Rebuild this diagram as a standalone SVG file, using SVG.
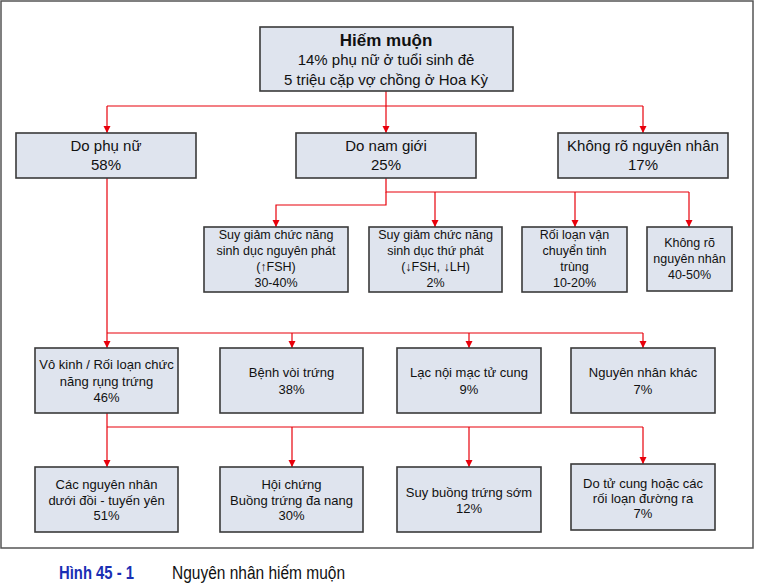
<svg xmlns="http://www.w3.org/2000/svg" width="757" height="585" viewBox="0 0 757 585">
<defs>
<marker id="arr" markerWidth="8" markerHeight="8" refX="7" refY="4" orient="auto" markerUnits="userSpaceOnUse">
<path d="M0,0.5 L7,4 L0,7.5 Z" fill="#e8000b"/>
</marker>
<style>
.box{fill:#dfe4ee;stroke:#3a3a3a;stroke-width:1.6}
.c{fill:none;stroke:#e8000b;stroke-width:1.2}
.a{fill:none;stroke:#e8000b;stroke-width:1.2;marker-end:url(#arr)}
text{font-family:"Liberation Sans",Arial,sans-serif;fill:#111;text-anchor:middle}
.t1{font-size:15px}
.t2{font-size:12.5px}
.t3{font-size:13px}
</style>
</defs>
<rect width="757" height="585" fill="#fff"/>
<rect x="1" y="1" width="752" height="547" fill="none" stroke="#555" stroke-width="1.5"/>

<g id="connectors">
<path class="c" d="M107,106 H643"/>
<path class="a" d="M386,91 V133"/>
<path class="a" d="M107,106 V133"/>
<path class="a" d="M643,106 V133"/>
<path class="c" d="M386,178 V192 H689"/>
<path class="a" d="M386,192 V205 H276 V227"/>
<path class="a" d="M435,192 V227"/>
<path class="a" d="M575,192 V227"/>
<path class="a" d="M689,192 V227"/>
<path class="a" d="M107,178 V348"/>
<path class="c" d="M107,333 H643"/>
<path class="a" d="M292,333 V348"/>
<path class="a" d="M469,333 V348"/>
<path class="a" d="M643,333 V348"/>
<path class="a" d="M107,413 V467"/>
<path class="c" d="M107,427 H643"/>
<path class="a" d="M292,427 V467"/>
<path class="a" d="M469,427 V467"/>
<path class="a" d="M643,427 V464"/>
</g>

<g id="n-root">
<rect class="box" x="260" y="27" width="253" height="64"/>
<text x="386" y="46" style="font-size:17px;font-weight:bold">Hiếm muộn</text>
<text class="t1" x="386" y="65">14% phụ nữ ở tuổi sinh đẻ</text>
<text class="t1" x="386" y="85">5 triệu cặp vợ chồng ở Hoa Kỳ</text>
</g>

<g id="n-female">
<rect class="box" x="16" y="133" width="180" height="45"/>
<text class="t1" x="106" y="151">Do phụ nữ</text>
<text class="t1" x="106" y="170">58%</text>
</g>
<g id="n-male">
<rect class="box" x="296" y="133" width="180" height="45"/>
<text class="t1" x="386" y="151">Do nam giới</text>
<text class="t1" x="386" y="170">25%</text>
</g>
<g id="n-unknown">
<rect class="box" x="558" y="133" width="170" height="45"/>
<text class="t1" x="643" y="151">Không rõ nguyên nhân</text>
<text class="t1" x="643" y="170">17%</text>
</g>

<g id="n-m1">
<rect class="box" x="204" y="227" width="144" height="65"/>
<text class="t2" x="276" y="239">Suy giảm chức năng</text>
<text class="t2" x="276" y="255">sinh dục nguyên phát</text>
<text class="t2" x="276" y="271">(↑FSH)</text>
<text class="t2" x="276" y="287">30-40%</text>
</g>
<g id="n-m2">
<rect class="box" x="369" y="227" width="133" height="65"/>
<text class="t2" x="435.5" y="239">Suy giảm chức năng</text>
<text class="t2" x="435.5" y="255">sinh dục thứ phát</text>
<text class="t2" x="435.5" y="271">(↓FSH, ↓LH)</text>
<text class="t2" x="435.5" y="287">2%</text>
</g>
<g id="n-m3">
<rect class="box" x="522" y="227" width="105" height="65"/>
<text class="t2" x="574.5" y="239">Rối loạn vận</text>
<text class="t2" x="574.5" y="255">chuyển tinh</text>
<text class="t2" x="574.5" y="271">trùng</text>
<text class="t2" x="574.5" y="287">10-20%</text>
</g>
<g id="n-m4">
<rect class="box" x="647" y="227" width="85" height="64"/>
<text class="t2" x="689.5" y="247">Không rõ</text>
<text class="t2" x="689.5" y="263">nguyên nhân</text>
<text class="t2" x="689.5" y="279">40-50%</text>
</g>

<g id="n-f1">
<rect class="box" x="35" y="348" width="143" height="65"/>
<text class="t3" x="106.5" y="369">Vô kinh / Rối loạn chức</text>
<text class="t3" x="106.5" y="386">năng rụng trứng</text>
<text class="t3" x="106.5" y="402">46%</text>
</g>
<g id="n-f2">
<rect class="box" x="220" y="348" width="143" height="65"/>
<text class="t3" x="291.5" y="377">Bệnh vòi trứng</text>
<text class="t3" x="291.5" y="394">38%</text>
</g>
<g id="n-f3">
<rect class="box" x="397" y="348" width="144" height="65"/>
<text class="t3" x="469" y="377">Lạc nội mạc tử cung</text>
<text class="t3" x="469" y="394">9%</text>
</g>
<g id="n-f4">
<rect class="box" x="571" y="348" width="144" height="65"/>
<text class="t3" x="643" y="377">Nguyên nhân khác</text>
<text class="t3" x="643" y="394">7%</text>
</g>

<g id="n-o1">
<rect class="box" x="35" y="467" width="143" height="65"/>
<text class="t3" x="106.5" y="489">Các nguyên nhân</text>
<text class="t3" x="106.5" y="505">dưới đồi - tuyến yên</text>
<text class="t3" x="106.5" y="520">51%</text>
</g>
<g id="n-o2">
<rect class="box" x="220" y="467" width="143" height="65"/>
<text class="t3" x="291.5" y="489">Hội chứng</text>
<text class="t3" x="291.5" y="505">Buồng trứng đa nang</text>
<text class="t3" x="291.5" y="520">30%</text>
</g>
<g id="n-o3">
<rect class="box" x="397" y="467" width="144" height="65"/>
<text class="t3" x="469" y="497">Suy buồng trứng sớm</text>
<text class="t3" x="469" y="513">12%</text>
</g>
<g id="n-o4">
<rect class="box" x="571" y="464" width="144" height="66"/>
<text class="t3" x="643" y="488">Do tử cung hoặc các</text>
<text class="t3" x="643" y="503">rối loạn đường ra</text>
<text class="t3" x="643" y="518">7%</text>
</g>

<g id="caption">
<text x="59" y="579" style="font-size:18px;font-weight:bold;fill:#1a2fb4;text-anchor:start" textLength="75" lengthAdjust="spacingAndGlyphs">Hình 45 - 1</text>
<text x="172" y="579" style="font-size:18px;text-anchor:start" textLength="173" lengthAdjust="spacingAndGlyphs">Nguyên nhân hiếm muộn</text>
</g>
</svg>
